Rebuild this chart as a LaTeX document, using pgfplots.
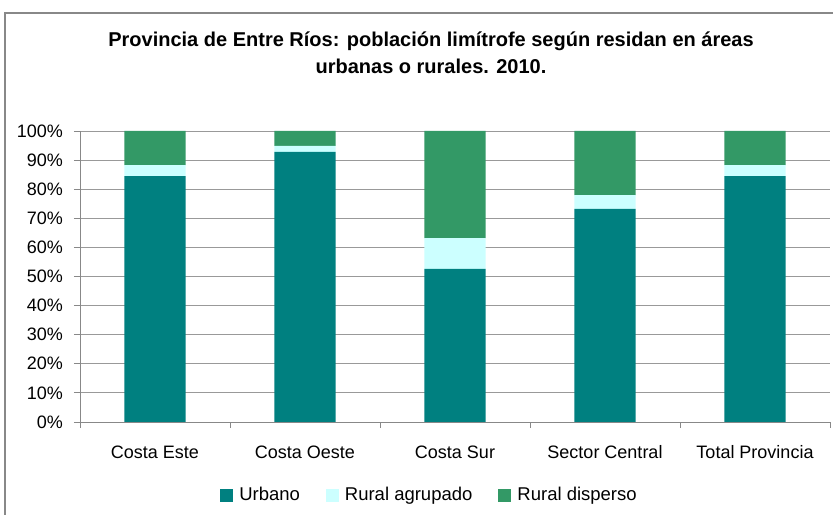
\documentclass[border=0pt]{standalone}
\usepackage{fontspec}
\setmainfont{Liberation Sans}
\usepackage{pgfplots}
\pgfplotsset{compat=1.18}
\definecolor{urb}{HTML}{008080}
\definecolor{rag}{HTML}{CCFFFF}
\definecolor{rdi}{HTML}{339966}
\definecolor{gridc}{HTML}{999999}
\definecolor{axc}{HTML}{888888}
\begin{document}
\begin{tikzpicture}
\useasboundingbox (0bp,0bp) rectangle (833bp,515bp);
\fill[white] (0bp,0bp) rectangle (833bp,515bp);
\draw[axc, line width=1.2bp] (5bp,-5bp) -- (5bp,502bp) -- (840bp,502bp);
\node[anchor=base, font=\bfseries\fontsize{20bp}{24bp}\selectfont] at (431bp,468bp) {Provincia de Entre Ríos: población limítrofe según residan en áreas};
\node[anchor=base, font=\bfseries\fontsize{20bp}{24bp}\selectfont] at (431bp,441bp) {urbanas o rurales. 2010.};
\begin{axis}[
  at={(80bp,93bp)}, anchor=south west,
  width=750bp, height=291bp, scale only axis,
  ybar stacked, bar width=0.407, bar shift=0pt,
  xmin=-0.5, xmax=4.5, ymin=0, ymax=100,
  axis lines=left, axis line style={-, draw=axc, line width=0.8bp},
  ytick={0,10,...,100},
  yticklabel={\pgfmathprintnumber{\tick}\%},
  ymajorgrids, grid style={gridc, line width=0.9bp},
  xtick={-0.5,0.5,...,4.5}, xticklabels={},
  extra x ticks={0,1,2,3,4},
  extra x tick labels={Costa Este,Costa Oeste,Costa Sur,Sector Central,Total Provincia},
  extra x tick style={major tick length=0pt, grid=none},
  tick align=outside, major tick length=6bp,
  tick style={draw=axc, line width=0.8bp},
  ytick pos=left, xtick pos=bottom,
  /pgf/number format/assume math mode=true,
  tick label style={font=\fontsize{18bp}{22bp}\selectfont, text=black},
  yticklabel style={anchor=east, inner sep=0pt, xshift=-11bp},
  xticklabel style={anchor=base, inner sep=0pt, yshift=-37bp},
  legend style={at={(0.466,-0.251)}, anchor=center, draw=none, fill=none,
    legend columns=-1, font=\fontsize{18.5bp}{22bp}\selectfont,
    /tikz/every odd column/.append style={column sep=4bp},
    /tikz/every even column/.append style={column sep=24bp}},
  legend image code/.code={\fill[#1] (0bp,-6.5bp) rectangle (13bp,6.5bp);},
]
\addplot[fill=urb, draw=none] coordinates {(0,84.5) (1,92.8) (2,52.6) (3,73.2) (4,84.5)};
\addplot[fill=rag, draw=none] coordinates {(0,3.8) (1,2.1) (2,10.6) (3,4.8) (4,3.8)};
\addplot[fill=rdi, draw=none] coordinates {(0,11.7) (1,5.1) (2,36.8) (3,22.0) (4,11.7)};
\legend{Urbano,Rural agrupado,Rural disperso}
\end{axis}
\end{tikzpicture}
\end{document}
